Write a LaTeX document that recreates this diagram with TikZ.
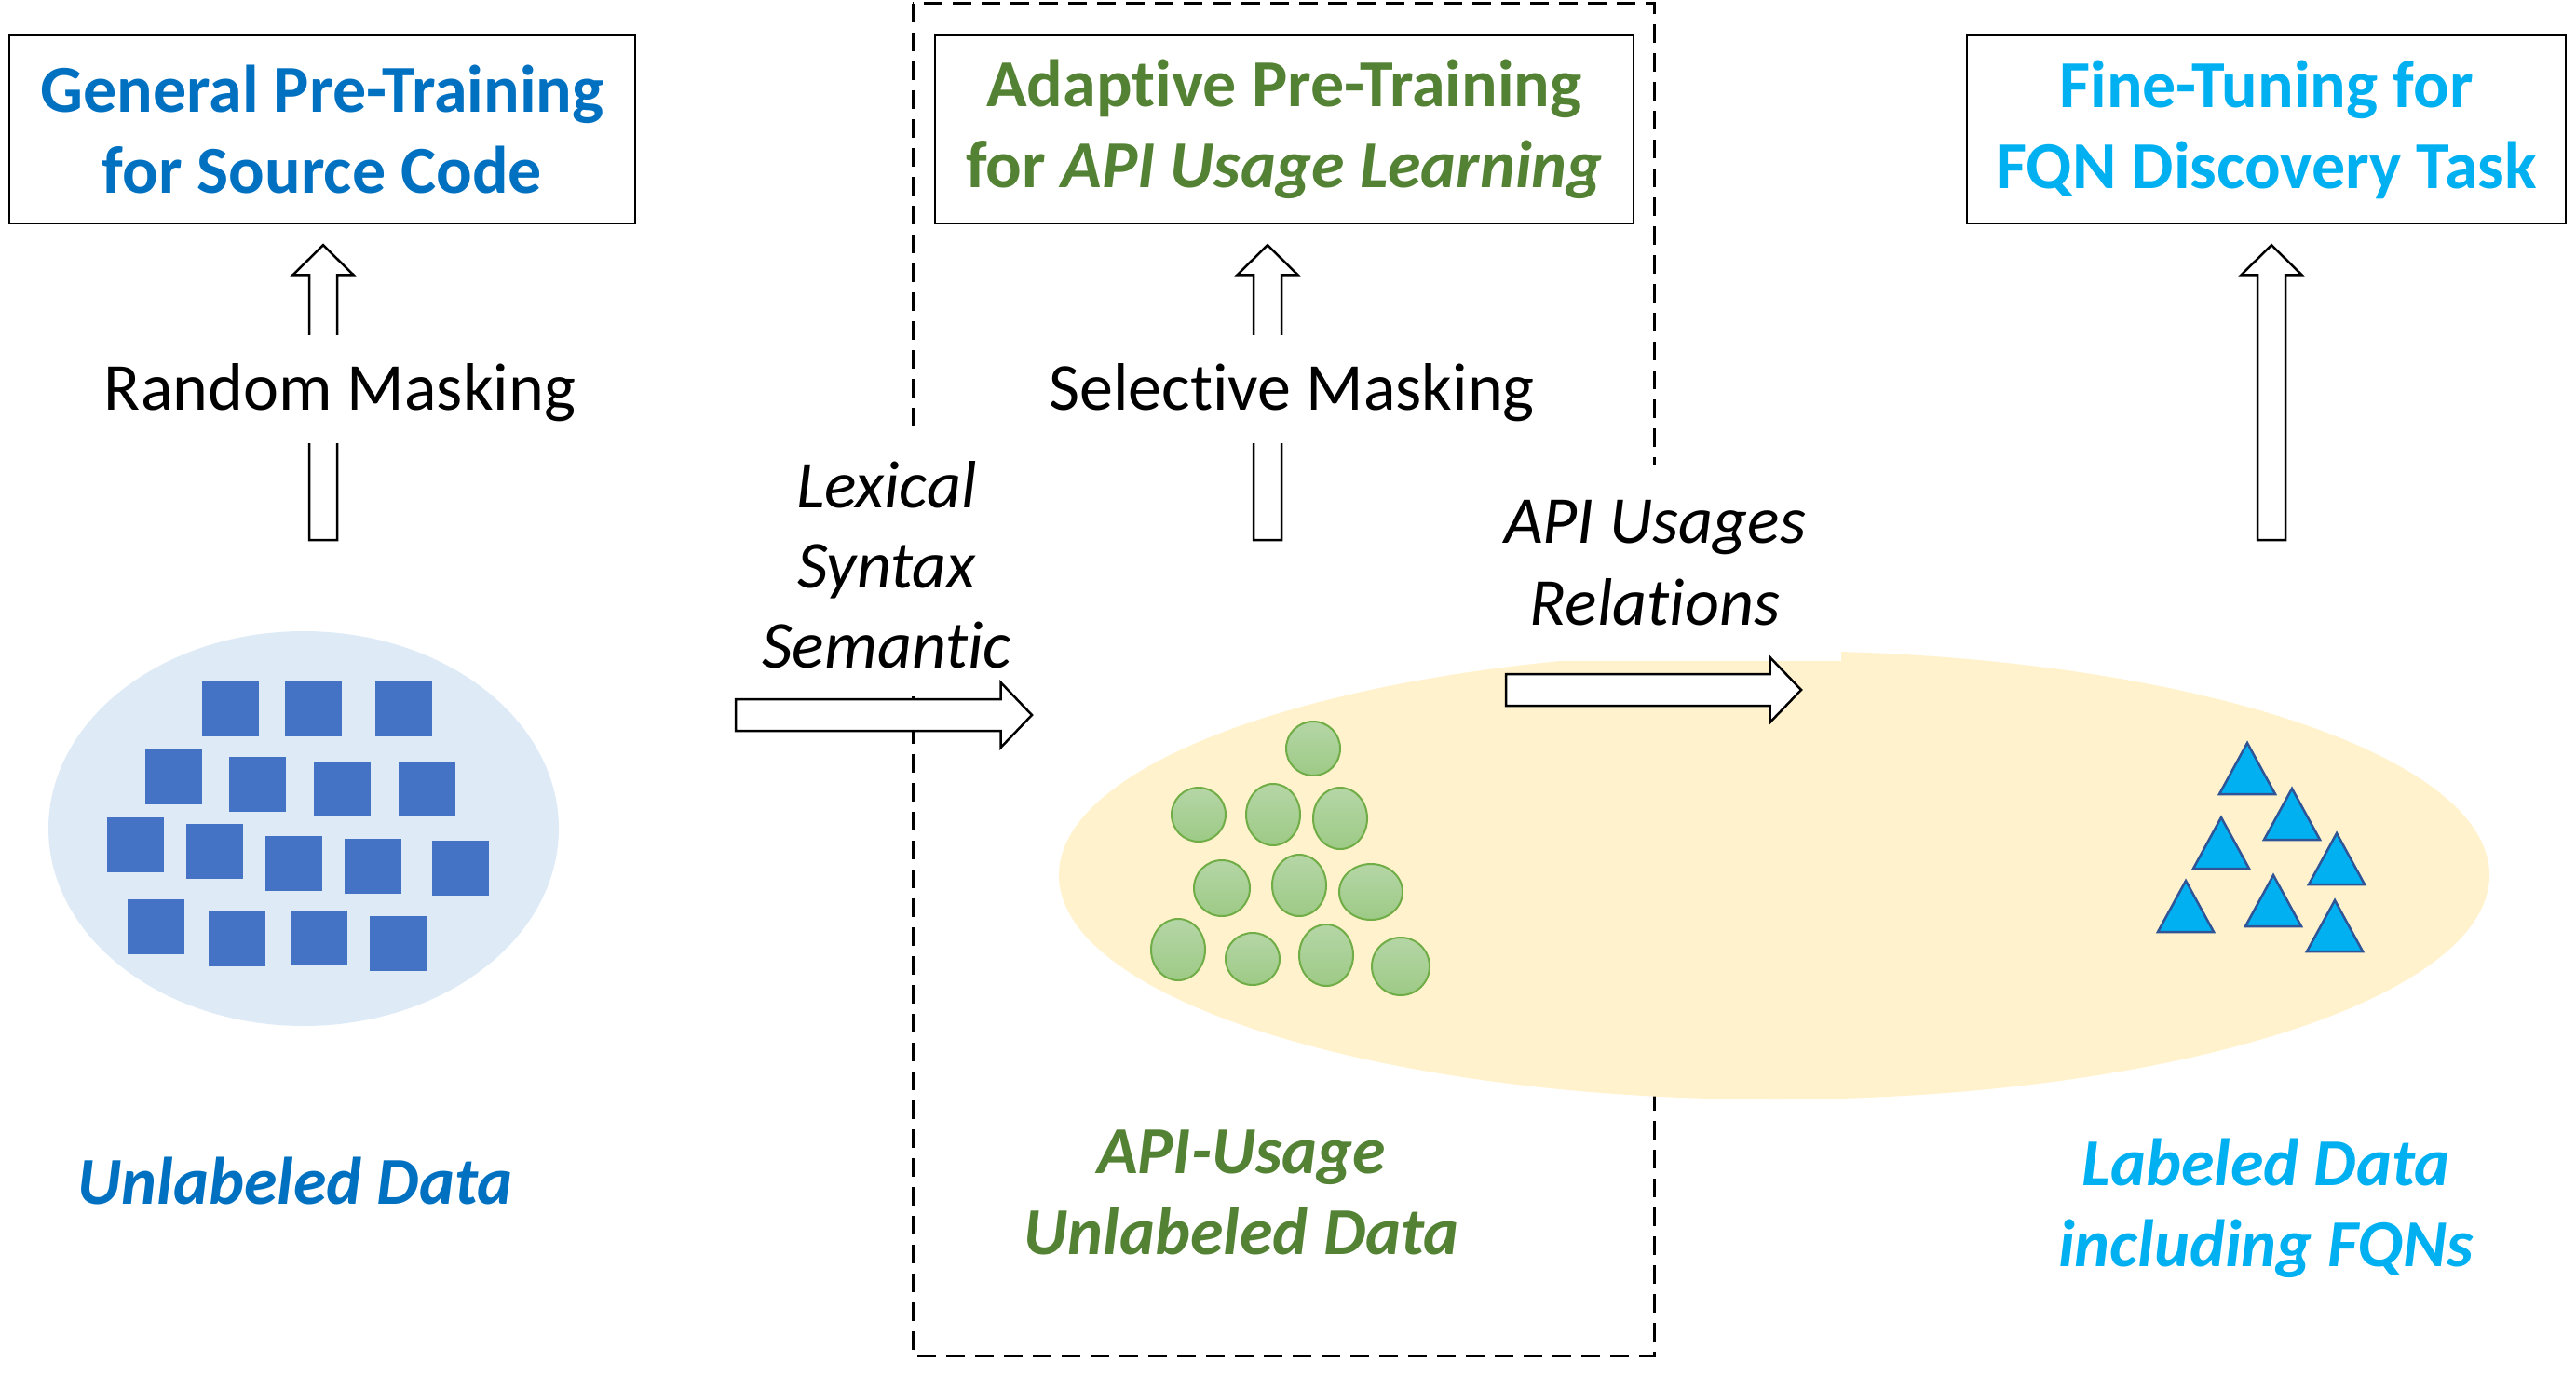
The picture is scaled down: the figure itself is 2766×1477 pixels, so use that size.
\documentclass[tikz,border=0pt]{standalone}
\usepackage{fontspec}
\setmainfont{Carlito}[Ligatures={NoCommon}]
\usetikzlibrary{calc,shapes.geometric}
\definecolor{tblue}{HTML}{0070C0}
\definecolor{tgreen}{HTML}{548235}
\definecolor{tcyan}{HTML}{00B0F0}
\definecolor{sqblue}{HTML}{4472C4}
\definecolor{lblue}{HTML}{DEEBF7}
\definecolor{lyellow}{HTML}{FFF2CC}
\definecolor{cgreen}{HTML}{70AD47}
\definecolor{cgtop}{HTML}{B5D6A6}
\definecolor{cgbot}{HTML}{9DCA86}
\definecolor{tborder}{HTML}{2F5597}
\tikzset{
  bigfont/.style={font=\fontsize{36}{43.5}\selectfont},
  titlebox/.style={draw, line width=1.25pt, minimum height=101pt, inner sep=0pt,
    align=center, font=\fontsize{36}{43.5}\selectfont\bfseries},
  uparrow/.style={draw=black, fill=white, line width=1.25pt, line join=miter,
    to path={let \p1=(\tikztostart), \p2=(\tikztotarget) in
      (\x1-7.5pt,\y1) -- (\x1-7.5pt,\y2-16pt) -- (\x1-16.25pt,\y2-16pt) -- (\x1,\y2)
      -- (\x1+16.25pt,\y2-16pt) -- (\x1+7.5pt,\y2-16pt) -- (\x1+7.5pt,\y1) -- cycle}},
  rarrow/.style={draw=black, fill=white, line width=1.25pt, line join=miter,
    to path={let \p1=(\tikztostart), \p2=(\tikztotarget) in
      (\x1,\y1-8.5pt) -- (\x2-16.75pt,\y1-8.5pt) -- (\x2-16.75pt,\y1-17.5pt) -- (\x2,\y1)
      -- (\x2-16.75pt,\y1+17.5pt) -- (\x2-16.75pt,\y1+8.5pt) -- (\x1,\y1+8.5pt) -- cycle}},
  masklabel/.style={fill=white, inner xsep=6pt, inner ysep=13pt, text height=27pt,
    text depth=5pt, anchor=base, font=\fontsize{36}{43.5}\selectfont},
  sq/.style={fill=sqblue, minimum width=30.5pt, minimum height=29.5pt, inner sep=0pt},
  gcirc/.style={ellipse, top color=cgtop, bottom color=cgbot, draw=cgreen,
    line width=1pt, inner sep=0pt},
  tri/.style={fill=tcyan, draw=tborder, line width=1.25pt, line join=miter},
  datalabel/.style={align=center, font=\fontsize{36}{43.5}\selectfont\bfseries\itshape},
}
\begin{document}
\begin{tikzpicture}[x=0.5pt,y=-0.5pt]
\useasboundingbox (0,0) rectangle (2766,1477);

% title boxes
\node[titlebox, minimum width=336pt, text=tblue] (box1) at (346,139)
  {General Pre-Training\\for Source Code};
\node[titlebox, minimum width=375pt, text=tgreen] (box2) at (1379,139)
  {Adaptive Pre-Training\\for \textit{API Usage Learning}};
\node[titlebox, minimum width=321.5pt, text=tcyan] (box3) at (2433.5,139)
  {Fine-Tuning for\\FQN Discovery Task};

% dashed group frame
\draw[dash pattern=on 10pt off 5.5pt, line width=1.5pt] (980,4) rectangle (1776,1456);

% data ellipses
\node[ellipse, fill=lblue, minimum width=274pt, minimum height=212pt, inner sep=0pt]
  (udata) at (326,890) {};
\node[ellipse, fill=lyellow, minimum width=768pt, minimum height=241pt, inner sep=0pt]
  (adata) at (1905,940) {};

% squares
\foreach \x/\y [count=\i] in {247.5/761.5, 336.5/761.5, 433.5/761.5,
  186.5/834.5, 276/842, 367/847, 458.5/847,
  145.5/907, 230.5/914.5, 315.5/927.5, 400.5/930.5, 494/932.5,
  167.5/995, 254.5/1008, 342.5/1007, 427.5/1013}
  \node[sq] (sq\i) at (\x,\y) {};

% circles
\foreach \x/\y/\a/\b [count=\i] in {1410/804/29/29, 1287/875/29/29, 1367/875/29/33,
  1439/879/29/33, 1312/954/30/30, 1395/951/29/33, 1472/958/34/30,
  1265/1020/29/33, 1345/1030/29/28, 1424/1026/29/33, 1504/1038/31/31}
  \node[gcirc, minimum width=\a pt, minimum height=\b pt] (c\i) at (\x,\y) {};

% triangles
\foreach \x/\y in {2413/798, 2461/847, 2385/878, 2509/895, 2347/946, 2441/940, 2507/967}
  \draw[tri] (\x,\y) -- ++(-30,55) -- ++(60,0) -- cycle;

% up arrows
\coordinate (a1s) at (347,580);
\coordinate (a2s) at (1361,580);
\coordinate (a3s) at (2439,580);
\draw[uparrow] (a1s) to ([yshift=-11pt]a1s |- box1.south);
\draw[uparrow] (a2s) to ([yshift=-11pt]a2s |- box2.south);
\draw[uparrow] (a3s) to ([yshift=-11pt]a3s |- box3.south);

\node[masklabel] (rmask) at (365,440) {Random Masking};
\node[masklabel] (smask) at (1387,440) {Selective Masking};

% relation labels
\node[fill=white, inner sep=15pt, align=center, font=\fontsize{36}{43}\selectfont\itshape]
  (lex) at (952,607) {Lexical\\Syntax\\Semantic};
\node[fill=white, inner sep=19pt, align=center, font=\fontsize{36}{44}\selectfont\itshape]
  (rel) at (1777,605) {API Usages\\Relations};

% right arrows
\coordinate (r1s) at (790,768);
\coordinate (r1e) at (1108,768);
\coordinate (r2s) at (1617,741);
\coordinate (r2e) at (1934,741);
\draw[rarrow] (r1s) to (r1e);
\draw[rarrow] (r2s) to (r2e);

% data labels
\node[datalabel, text=tblue, anchor=base] (l1) at (317,1293) {Unlabeled Data};
\node[datalabel, text=tgreen] (l2) at (1333,1281) {API-Usage\\Unlabeled Data};
\node[datalabel, text=tcyan] (l3) at (2433,1298) {Labeled Data\\including FQNs};
\end{tikzpicture}
\end{document}
